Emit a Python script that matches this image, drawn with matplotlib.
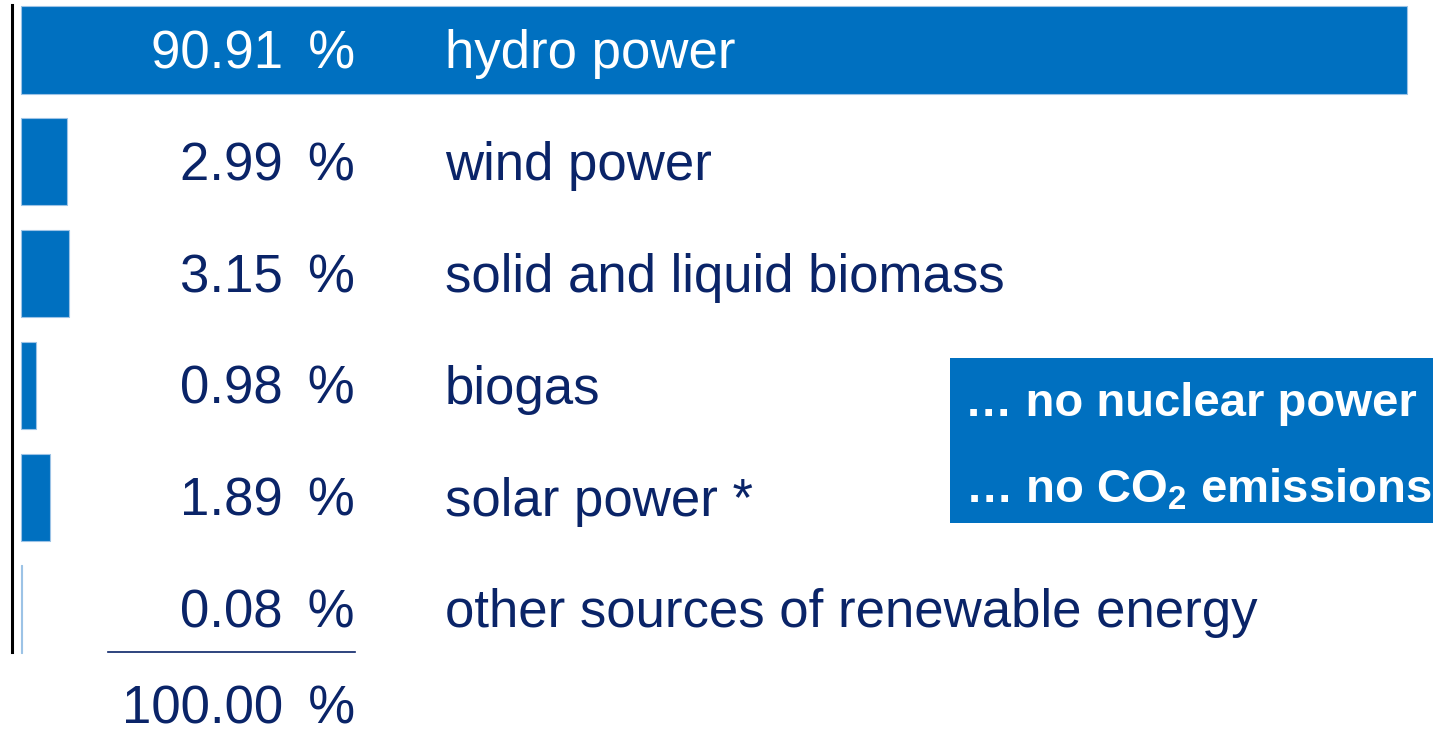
import matplotlib.pyplot as plt
from matplotlib.lines import Line2D
from matplotlib.patches import Rectangle
import matplotlib.transforms as mtransforms

plt.rcParams['font.family'] = ['Liberation Sans', 'DejaVu Sans']
plt.rcParams['mathtext.fontset'] = 'custom'
plt.rcParams['mathtext.rm'] = 'Liberation Sans'
plt.rcParams['mathtext.bf'] = 'Liberation Sans:bold'

# data
sources = ['hydro power', 'wind power', 'solid and liquid biomass', 'biogas',
           'solar power *', 'other sources of renewable energy']
shares = [90.91, 2.99, 3.15, 0.98, 1.89, 0.08]
total_label = '100.00 \u2009%'
notes = ['\u2026 no nuclear power', '\u2026 no CO$_\\mathbf{2}$ emissions']

BLUE = '#0070C0'
NAVY = '#0a2468'
W, H = 1433, 736

fig = plt.figure(figsize=(W / 100, H / 100), dpi=100)
ax = fig.add_axes([0, 0, 1, 1])
ax.axis('off')

# pixel layout of the reference: bars start at x=21, hydro ends at x=1407
px_per = 1386 / shares[0]
row_px, first_px = 111.8, 50
ax.set_xlim(-21 / px_per, (W - 21) / px_per)
ax.set_ylim((H - first_px) / row_px, -first_px / row_px)

ypos = list(range(len(sources)))
ax.barh(ypos, shares, height=0.78, color=BLUE, edgecolor='#9cc3e6', linewidth=0.8)

tr = mtransforms.blended_transform_factory(fig.transFigure, ax.transData)
base = 18.5 / row_px
for i, (name, val) in enumerate(zip(sources, shares)):
    col = 'white' if i == 0 else NAVY
    ax.text(355 / W, i + base, f'{val:.2f} \u2009%', transform=tr, ha='right', va='baseline',
            fontsize=38, color=col)
    ax.text(445 / W, i + base, name, transform=tr, ha='left', va='baseline',
            fontsize=38, color=col)

# left axis line
fig.add_artist(Line2D([12 / W, 12 / W], [1 - 5 / H, 1 - 652 / H], color='black', lw=2.2))
# sum underline and total
fig.add_artist(Line2D([108 / W, 355 / W], [1 - 652 / H, 1 - 652 / H], color=NAVY, lw=1.2))
fig.text(355 / W, 1 - 724 / H, total_label, ha='right', va='baseline', fontsize=38, color=NAVY)

# note box
fig.add_artist(Rectangle((950 / W, 1 - 523 / H), (W - 950) / W, 165 / H,
                         transform=fig.transFigure, color=BLUE, lw=0))
for txt, yb in zip(notes, [416, 502]):
    fig.text(965 / W, 1 - yb / H, txt, ha='left', va='baseline', fontsize=34,
             fontweight='bold', color='white')

fig.savefig('out.png', dpi=100)
